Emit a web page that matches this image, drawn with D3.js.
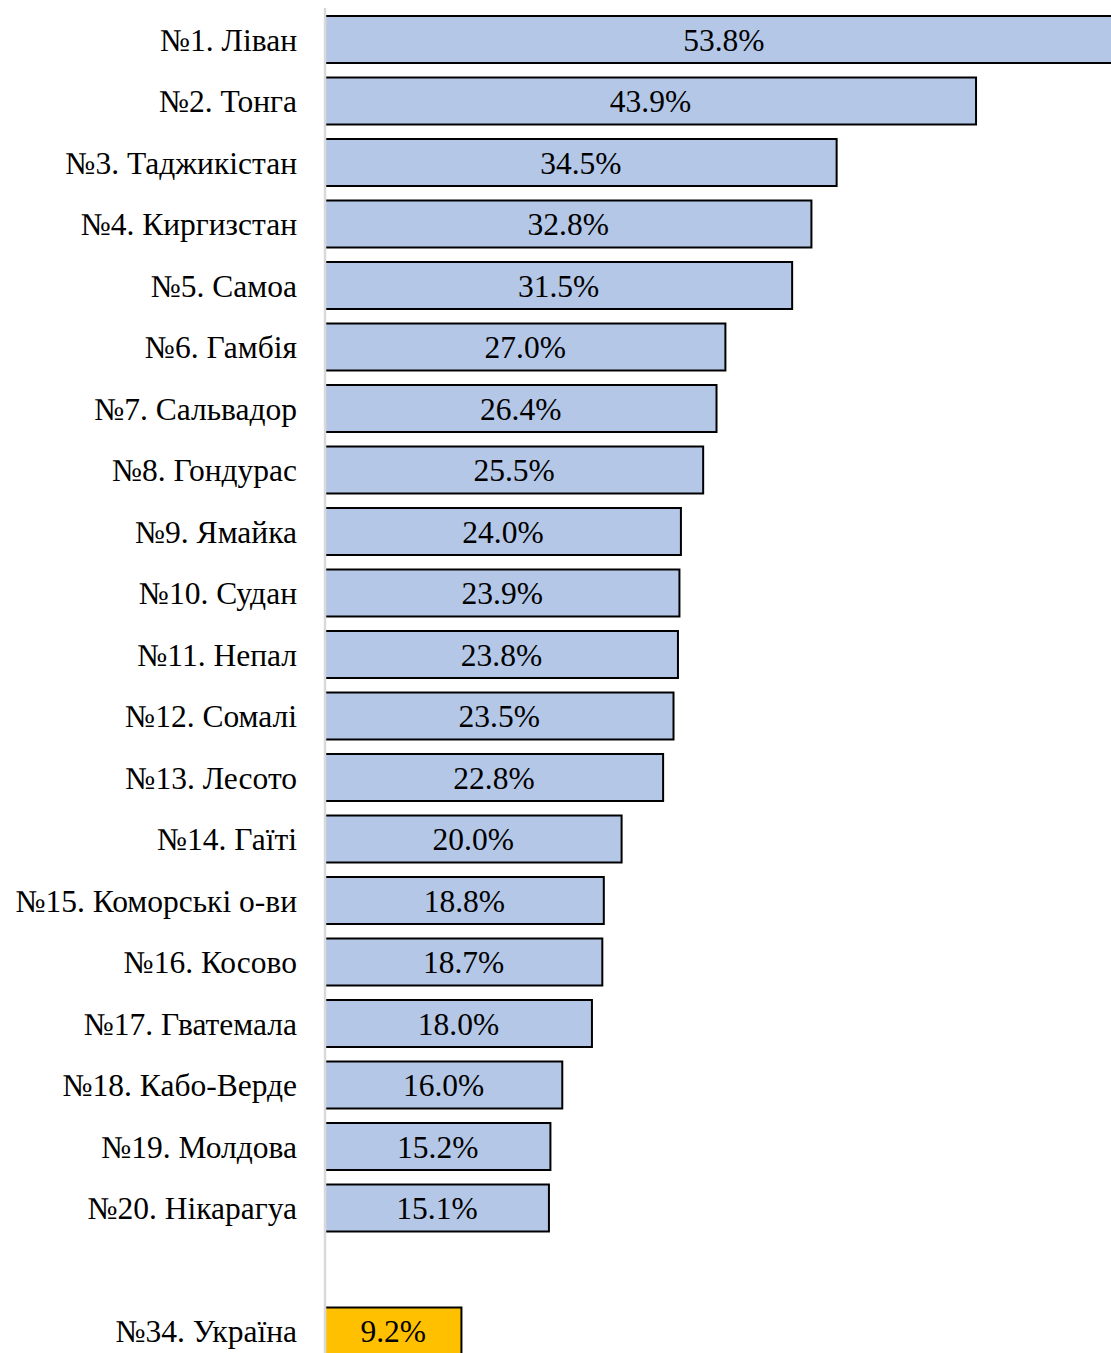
<!DOCTYPE html>
<html><head><meta charset="utf-8">
<script src="https://cdn.jsdelivr.net/npm/d3@7"></script>
<style>html,body{margin:0;padding:0;background:#fff;overflow:hidden}
text{font-family:"Liberation Serif", serif;}</style>
</head><body>
<svg id="chart" width="1111" height="1353"></svg>
<script>
const categories = ["№1. Ліван","№2. Тонга","№3. Таджикістан","№4. Киргизстан","№5. Самоа","№6. Гамбія","№7. Сальвадор","№8. Гондурас","№9. Ямайка","№10. Судан","№11. Непал","№12. Сомалі","№13. Лесото","№14. Гаїті","№15. Коморські о-ви","№16. Косово","№17. Гватемала","№18. Кабо-Верде","№19. Молдова","№20. Нікарагуа","","№34. Україна"];
const values = [53.8,43.9,34.5,32.8,31.5,27.0,26.4,25.5,24.0,23.9,23.8,23.5,22.8,20.0,18.8,18.7,18.0,16.0,15.2,15.1,null,9.2];
const highlight = ["№34. Україна"];

const svg = d3.select("#chart");
const keys = categories.map((c,i)=> c || ("gap"+i));
const y = d3.scaleBand().domain(keys).range([8.75, 1361.75]).paddingInner(0.236).paddingOuter(0.118);
const x = d3.scaleLinear().domain([0, 10]).range([325, 473.3]);

const data = keys.map((k,i)=>({key:k,label:categories[i],value:values[i]})).filter(d=>d.value!=null);

svg.append("g").selectAll("rect").data(data).join("rect")
  .attr("x", x(0)).attr("y", d=>y(d.key))
  .attr("width", d=>x(d.value)-x(0)).attr("height", y.bandwidth())
  .attr("fill", d=>highlight.includes(d.label)?"#FFC000":"#B4C7E7")
  .attr("stroke","#000").attr("stroke-width",2);

svg.append("line").attr("x1",325).attr("x2",325).attr("y1",8).attr("y2",1353)
  .attr("stroke","#d9d9d9").attr("stroke-width",2.5);

svg.append("g").selectAll("text").data(data).join("text")
  .attr("x", d=>(x(0)+x(d.value))/2).attr("y", d=>y(d.key)+y.bandwidth()/2+11)
  .attr("text-anchor","middle").attr("font-size",31.5).attr("fill","#000")
  .text(d=>d.value.toFixed(1)+"%");

svg.append("g").selectAll("text").data(data).join("text")
  .attr("x", 297).attr("y", d=>y(d.key)+y.bandwidth()/2+11)
  .attr("text-anchor","end").attr("font-size",31.5).attr("fill","#000")
  .text(d=>d.label);
</script>
</body></html>
